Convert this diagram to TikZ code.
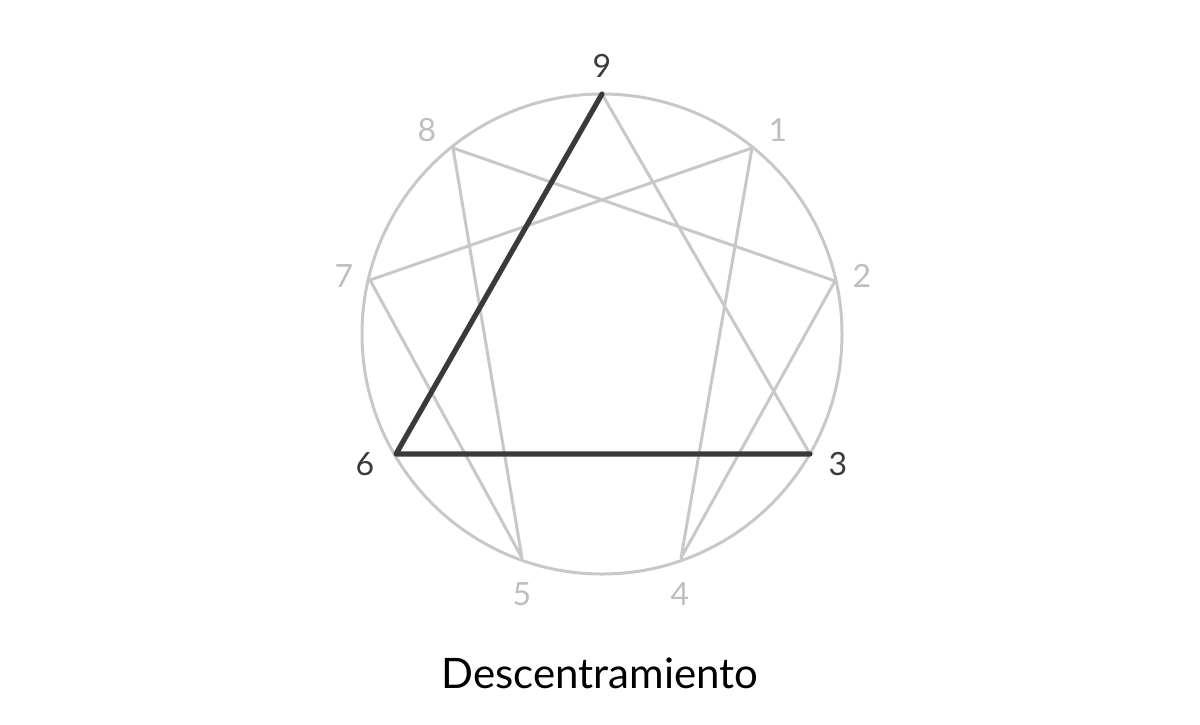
\documentclass[tikz,border=0pt]{standalone}
\usepackage{fontspec}
\setmainfont{Lato}
\usepackage{xcolor}
\definecolor{lightline}{RGB}{200,200,200}
\definecolor{lightnum}{RGB}{190,190,190}
\definecolor{darkline}{RGB}{58,58,58}
\tikzset{
  faint/.style={draw=lightline, line width=1.5pt},
  strong/.style={draw=darkline, line width=2.6pt, line join=round, line cap=round},
  numgray/.style={text=lightnum, inner sep=0.75pt, font=\fontsize{16}{18}\selectfont},
  numdark/.style={text=darkline, inner sep=0.75pt, font=\fontsize{16}{18}\selectfont}
}
\begin{document}
\begin{tikzpicture}[x=0.5pt,y=0.5pt,yscale=-1]
\useasboundingbox (0,0) rectangle (1200,724);

%Shape: Circle
\draw [faint] (602,334) circle [radius=240];

% points of the figure
\coordinate (p9) at (602,94);
\coordinate (p1) at (752,148);
\coordinate (p2) at (835,281);
\coordinate (p3) at (810,454);
\coordinate (p4) at (681,558);
\coordinate (p5) at (522,558);
\coordinate (p6) at (396,454);
\coordinate (p7) at (370,280);
\coordinate (p8) at (453,148);

%Shape: Hexad
\draw [faint, line join=round] (p1) -- (p4) -- (p2) -- (p8) -- (p5) -- (p7) -- cycle;
%Shape: gray side of triangle
\draw [faint] (p9) -- (p3);
%Shape: dark sides of triangle
\draw [strong] (p3) -- (p6) -- (p9);

% Text Node
\node [numdark] (n9) at (602,66) {9};
% Text Node
\node [numgray] (n1) at (778,130) {1};
% Text Node
\node [numgray] (n2) at (862,276) {2};
% Text Node
\node [numdark] (n3) at (838,464) {3};
% Text Node
\node [numgray] (n4) at (680,594) {4};
% Text Node
\node [numgray] (n5) at (522,594) {5};
% Text Node
\node [numdark] (n6) at (365,464) {6};
% Text Node
\node [numgray] (n7) at (344,276) {7};
% Text Node
\node [numgray] (n8) at (427,130) {8};
% Text Node
\node [text=black, inner sep=0.75pt, font=\fontsize{21}{24}\selectfont] (title) at (600,673) {Descentramiento};
\end{tikzpicture}
\end{document}
